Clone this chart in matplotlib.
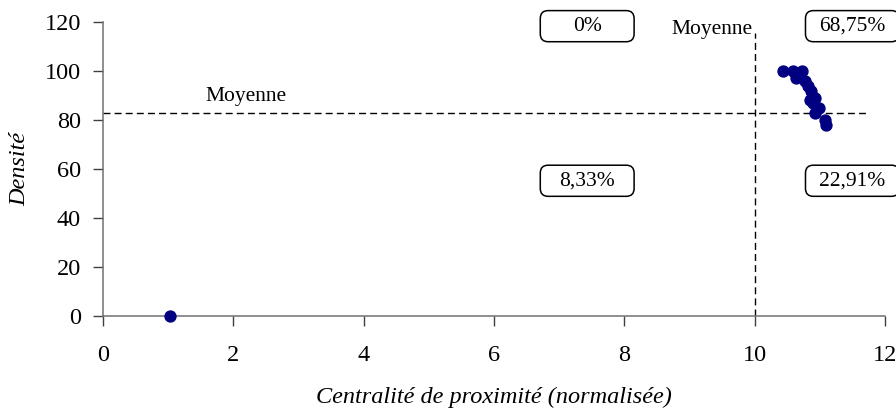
import matplotlib
matplotlib.use("Agg")
import matplotlib.pyplot as plt
from matplotlib.patches import FancyBboxPatch

# données
centralite = [1.03, 10.44, 10.59, 10.72, 10.64, 10.77, 10.82, 10.87, 10.85,
              10.93, 10.89, 10.98, 10.93, 11.08, 11.10]
densite = [0, 100, 100, 100, 97, 96, 94, 92, 88, 89, 87, 85, 83, 80, 78]

moyenne_x = 10.0
moyenne_y = 82.8

quadrants = ["0%", "68,75%", "8,33%", "22,91%"]
quad_x = [7.43, 11.5, 7.43, 11.5]
quad_y = [118.3, 118.3, 55.2, 55.2]

plt.rcParams["font.family"] = ["Liberation Serif", "DejaVu Serif"]

fig = plt.figure(figsize=(8.96, 4.12), dpi=100)
ax = fig.add_axes([0.115, 0.233, 0.8727, 0.7136])

ax.scatter(centralite, densite, s=62, color="#000080", zorder=3, clip_on=False)

# lignes de moyenne
ax.plot([0, 11.74], [moyenne_y, moyenne_y], color="black", lw=1,
        linestyle=(0, (5, 3)), zorder=2)
ax.plot([moyenne_x, moyenne_x], [0, 115.6], color="black", lw=1,
        linestyle=(0, (5, 3)), zorder=2)
ax.text(2.2, 89.5, "Moyenne", fontsize=15.5, ha="center", va="center")
ax.text(9.35, 117, "Moyenne", fontsize=15.5, ha="center", va="center")

# encadrés des pourcentages
bw, bh = 1.44, 12.7
for lab, qx, qy in zip(quadrants, quad_x, quad_y):
    box = FancyBboxPatch((qx - bw / 2, qy - bh / 2), bw, bh,
                         boxstyle="round,pad=0,rounding_size=0.12",
                         mutation_aspect=27, fc="white", ec="black", lw=1.1,
                         clip_on=False, zorder=4)
    ax.add_patch(box)
    ax.text(qx, qy, lab, fontsize=15.5, ha="center", va="center", zorder=5,
            clip_on=False)

ax.set_xlim(0, 12)
ax.set_ylim(0, 120)
ax.set_xticks(range(0, 13, 2))
ax.set_yticks(range(0, 121, 20))

for s in ["top", "right"]:
    ax.spines[s].set_visible(False)
for s in ["left", "bottom"]:
    ax.spines[s].set_color("#707070")
    ax.spines[s].set_linewidth(1.1)

ax.tick_params(axis="x", direction="out", length=7, width=1, color="#404040",
               labelsize=17.5, pad=14)
ax.tick_params(axis="y", direction="out", length=7, width=1, color="#404040",
               labelsize=17.5, pad=9)

ax.set_xlabel("Centralité de proximité (normalisée)", fontsize=17.5,
              style="italic", labelpad=15)
ax.set_ylabel("Densité", fontsize=17.5, style="italic", labelpad=10)

fig.savefig("out.png", dpi=100)
